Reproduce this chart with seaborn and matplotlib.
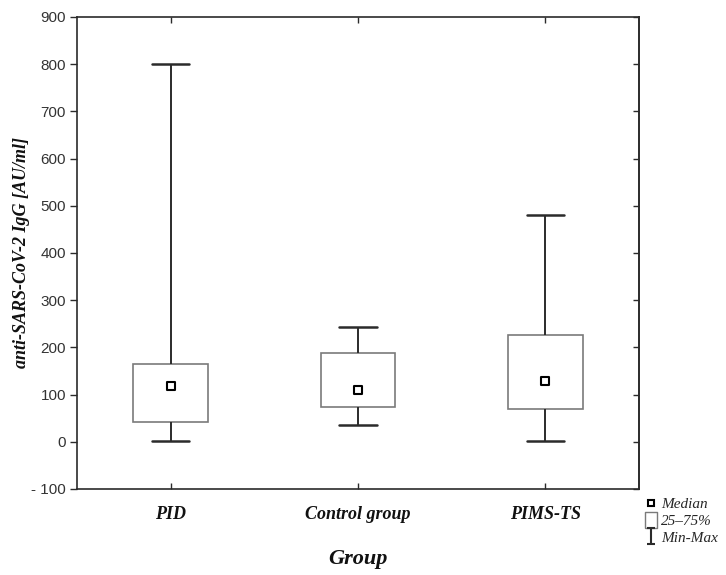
import numpy as np
import pandas as pd
import seaborn as sns
import matplotlib.pyplot as plt
from matplotlib.lines import Line2D
from matplotlib.path import Path

# summary values (AU/ml)
groups = ['PID', 'Control group', 'PIMS-TS']
mins = [2, 36, 2]
q1 = [43, 74, 69]
medians = [118, 110, 129]
q3 = [165, 188, 226]
maxs = [800, 243, 481]
yticks = list(range(-100, 901, 100))
ytick_labels = ['- 100', '0', '100', '200', '300', '400', '500', '600', '700', '800', '900']

# five points per group -> quartiles land exactly on q1/median/q3
rows = []
for i, g in enumerate(groups):
    for v in [mins[i], q1[i], medians[i], q3[i], maxs[i]]:
        rows.append({'Group': g, 'value': v})
df = pd.DataFrame(rows)

sns.set_theme(style='white')
plt.rcParams['font.family'] = ['Liberation Serif', 'DejaVu Serif']

fig = plt.figure(figsize=(7.26, 5.75), dpi=100)
ax = fig.add_axes([77/726, 1-489/575, (639-77)/726, (489-17)/575])

dark = '#2b2b2b'
sns.boxplot(data=df, x='Group', y='value', order=groups, whis=(0, 100), width=0.4,
            color='white', linecolor=dark, linewidth=1.4, showfliers=False,
            boxprops=dict(edgecolor='#7a7a7a', linewidth=1.2),
            whiskerprops=dict(color=dark, linewidth=1.4),
            capprops=dict(color=dark, linewidth=1.8),
            medianprops=dict(visible=False), ax=ax)

sns.scatterplot(x=groups, y=medians, marker='s', s=30, color='white',
                edgecolor='black', linewidth=1.5, zorder=5, legend=False, ax=ax)

ax.set_xlim(-0.5, 2.5)
ax.set_ylim(-100, 900)
ax.set_yticks(yticks)
ax.set_yticklabels(ytick_labels, family='Liberation Sans', fontsize=11, color='#333333')
ax.set_xticks(range(len(groups)))
ax.set_xticklabels(groups, fontsize=13, fontweight='bold', fontstyle='italic', color='#111111')

ax.tick_params(axis='y', left=True, right=False, direction='out', length=5, width=1, color=dark, pad=3)
ax.tick_params(axis='x', bottom=True, top=True, direction='in', length=4, width=1, color=dark, pad=12)
right = ax.secondary_yaxis('right')
right.set_yticks(yticks)
right.tick_params(direction='in', length=4, width=1, color=dark, labelright=False)
for a in [ax, right]:
    for side in a.spines:
        a.spines[side].set_color(dark)
        a.spines[side].set_linewidth(1.2)

ax.set_xlabel('Group', fontsize=16, fontweight='bold', fontstyle='italic', labelpad=19, color='#111111')
ax.set_ylabel('anti-SARS-CoV-2 IgG [AU/ml]', fontsize=13, fontweight='bold', fontstyle='italic',
              labelpad=1, color='#111111')

# legend outside the plot, bottom right
box_path = Path([(-0.7, -1), (0.7, -1), (0.7, 1), (-0.7, 1), (-0.7, -1)])
ibeam = Path([(-0.5, 1), (0.5, 1), (0, 1), (0, -1), (-0.5, -1), (0.5, -1)],
             [Path.MOVETO, Path.LINETO, Path.MOVETO, Path.LINETO, Path.MOVETO, Path.LINETO])
handles = [
    Line2D([], [], ls='none', marker='s', ms=5, mfc='white', mec='black', mew=1.5),
    Line2D([], [], ls='none', marker=box_path, ms=12, mfc='white', mec='#7a7a7a', mew=1.0),
    Line2D([], [], ls='none', marker=ibeam, ms=12, mfc='none', mec=dark, mew=1.5),
]
fig.legend(handles, ['Median', '25\u201375%', 'Min-Max'], loc='upper left',
           bbox_to_anchor=(636/726, 1-490/575), frameon=False, handlelength=1.0,
           handletextpad=0.15, labelspacing=0.2, borderpad=0,
           prop=dict(family='Liberation Serif', style='italic', size=11))

fig.savefig('out.png', dpi=100)
